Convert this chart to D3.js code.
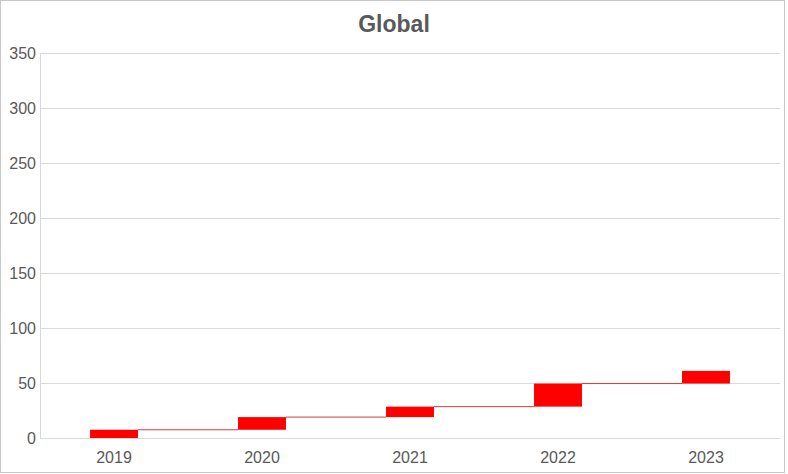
<!DOCTYPE html>
<html>
<head>
<meta charset="utf-8">
<script src="https://cdn.jsdelivr.net/npm/d3@7"></script>
<style>
  body { margin: 0; background: #fff; }
  text { font-family: "Liberation Sans", Arial, sans-serif; }
</style>
</head>
<body>
<svg id="chart" width="788" height="474"></svg>
<script>
// data
var years = ["2019", "2020", "2021", "2022", "2023"];
var increments = [7.5, 11.5, 9.5, 21, 11.5];
var yTicks = [0, 50, 100, 150, 200, 250, 300, 350];
var chartTitle = "Global";

var width = 788, height = 474;
var margin = {top: 53, right: 8, bottom: 36, left: 40};

var svg = d3.select("#chart");

// outer border
svg.append("rect")
    .attr("x", 0.5).attr("y", 0.5)
    .attr("width", 784).attr("height", 472)
    .attr("fill", "white")
    .attr("stroke", "#c8c8c8");

// build start / end of each floating bar
var steps = [];
var run = 0;
increments.forEach(function(v, i) {
    steps.push({year: years[i], start: run, end: run + v});
    run += v;
});

var x = d3.scaleBand()
    .domain(years)
    .range([margin.left, width - margin.right])
    .paddingInner(0.676)
    .paddingOuter(0.338);

var y = d3.scaleLinear()
    .domain([0, 350])
    .range([438, margin.top]);

// gridlines
svg.append("g")
    .selectAll("line")
    .data(yTicks)
    .enter()
    .append("line")
    .attr("x1", margin.left)
    .attr("x2", width - margin.right)
    .attr("y1", d => Math.round(y(d)) + 0.5)
    .attr("y2", d => Math.round(y(d)) + 0.5)
    .attr("stroke", "#d9d9d9")
    .attr("stroke-width", 1);

// left axis line
svg.append("line")
    .attr("x1", margin.left + 0.5).attr("x2", margin.left + 0.5)
    .attr("y1", y(350)).attr("y2", y(0))
    .attr("stroke", "#d9d9d9");

// y labels
svg.append("g")
    .selectAll("text")
    .data(yTicks)
    .enter()
    .append("text")
    .attr("x", 36)
    .attr("y", d => y(d) + 6)
    .attr("text-anchor", "end")
    .attr("fill", "#595959")
    .style("font-size", "16px")
    .text(d => d);

// x labels
svg.append("g")
    .selectAll("text")
    .data(years)
    .enter()
    .append("text")
    .attr("x", d => x(d) + x.bandwidth() / 2)
    .attr("y", 463)
    .attr("text-anchor", "middle")
    .attr("fill", "#595959")
    .style("font-size", "16px")
    .text(d => d);

// connector lines between bars
svg.append("g")
    .selectAll("line")
    .data(steps.slice(0, -1))
    .enter()
    .append("line")
    .attr("x1", d => x(d.year) + x.bandwidth())
    .attr("x2", (d, i) => x(steps[i + 1].year))
    .attr("y1", d => y(d.end))
    .attr("y2", d => y(d.end))
    .attr("stroke", "#d83a3a")
    .attr("stroke-width", 1);

// floating bars
svg.append("g")
    .selectAll("rect")
    .data(steps)
    .enter()
    .append("rect")
    .attr("x", d => x(d.year))
    .attr("width", x.bandwidth())
    .attr("y", d => y(d.end))
    .attr("height", d => y(d.start) - y(d.end))
    .attr("fill", "#ff0000");

// title
svg.append("text")
    .attr("x", 394)
    .attr("y", 32)
    .attr("text-anchor", "middle")
    .attr("fill", "#595959")
    .style("font-size", "23px")
    .style("font-weight", "bold")
    .text(chartTitle);
</script>
</body>
</html>
